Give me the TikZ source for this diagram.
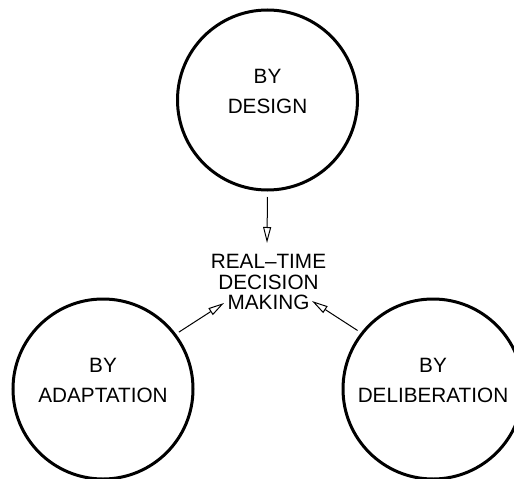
\documentclass[tikz,border=0pt]{standalone}
\usepackage{fontspec}
\setmainfont{Liberation Sans}
\usetikzlibrary{arrows.meta,calc}
\begin{document}
\begin{tikzpicture}[x=1bp,y=-1bp,
  ring/.style={circle,draw,line width=3bp,minimum size=180bp,inner sep=0pt},
  ringtext/.style={align=center,font=\fontsize{20.8}{31}\selectfont,inner sep=0pt},
  arr/.style={line width=1bp,-{Triangle[open,length=16bp,width=8bp,line width=1bp]}}]
\useasboundingbox (0,0) rectangle (514,479);
\node[ring,label={[ringtext,yshift=8.5bp]center:BY\\DESIGN}] (design) at (267.5,100) {};
\node[ring,label={[ringtext,yshift=8.5bp]center:BY\\ADAPTATION}] (adapt) at (103,389) {};
\node[ring,label={[ringtext,yshift=8.5bp]center:BY\\DELIBERATION}] (delib) at (433,389) {};
\node[align=center,font=\fontsize{20.8}{21}\selectfont,inner sep=0pt] (mid) at (268.5,282) {REAL--TIME\\DECISION\\MAKING};
\coordinate (mT) at ($(mid.center)+(-1.5,-39)$);
\coordinate (mL) at ($(mid.center)+(-44.5,21)$);
\coordinate (mR) at ($(mid.center)+(43.5,19)$);
\draw[arr,shorten <=5.5bp] (design.south) -- (mT);
\draw[arr,shorten <=3.3bp] (adapt.37.7) -- (mL);
\draw[arr,shorten <=4bp] (delib.142.7) -- (mR);
\end{tikzpicture}
\end{document}
